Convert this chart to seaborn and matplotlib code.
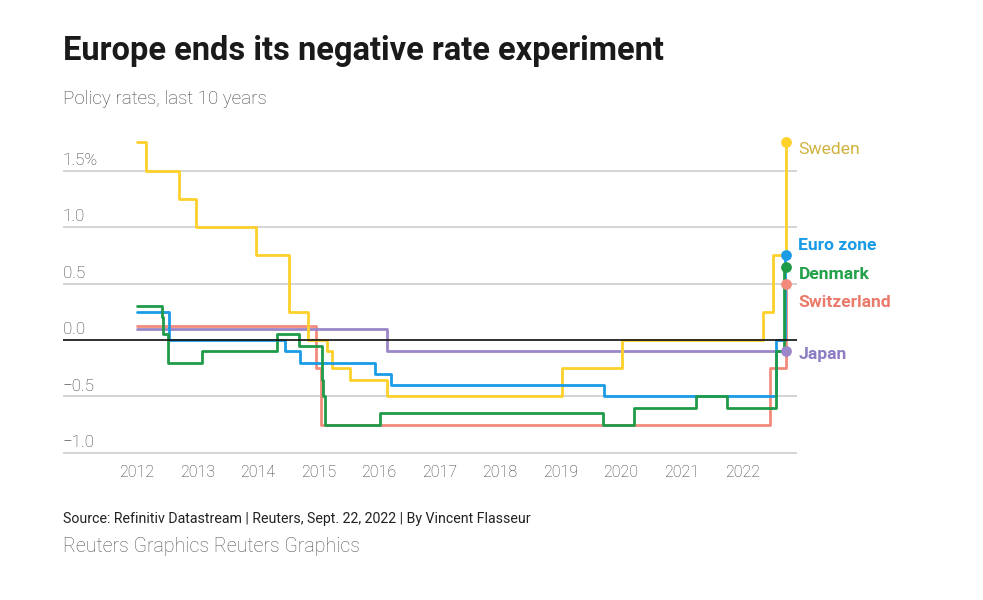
import matplotlib
matplotlib.use("Agg")
import matplotlib.pyplot as plt
import matplotlib.transforms as mtransforms
import pandas as pd
import seaborn as sns

# ---------------- data ----------------
END = "2022-09-22"

sweden_dates = ["2012-01-01", "2012-02-22", "2012-09-12", "2012-12-19", "2013-12-18",
                "2014-07-09", "2014-10-29", "2015-02-18", "2015-03-25", "2015-07-08",
                "2016-02-17", "2019-01-09", "2020-01-08", "2022-05-04", "2022-07-06",
                "2022-09-21", END]
sweden_rates = [1.75, 1.50, 1.25, 1.00, 0.75, 0.25, 0.00, -0.10, -0.25, -0.35,
                -0.50, -0.25, 0.00, 0.25, 0.75, 1.75, 1.75]

euro_dates = ["2012-01-01", "2012-07-11", "2014-06-11", "2014-09-10", "2015-12-09",
              "2016-03-16", "2019-09-18", "2022-07-27", "2022-09-14", END]
euro_rates = [0.25, 0.00, -0.10, -0.20, -0.30, -0.40, -0.50, 0.00, 0.75, 0.75]

denmark_dates = ["2012-01-01", "2012-05-31", "2012-06-08", "2012-07-06", "2013-01-25",
                 "2014-04-25", "2014-09-05", "2015-01-20", "2015-01-23", "2015-01-30",
                 "2015-02-06", "2016-01-08", "2019-09-13", "2020-03-20", "2021-03-26",
                 "2021-10-01", "2022-07-22", "2022-09-09", END]
denmark_rates = [0.30, 0.20, 0.05, -0.20, -0.10, 0.05, -0.05, -0.20, -0.35, -0.50,
                 -0.75, -0.65, -0.75, -0.60, -0.50, -0.60, -0.10, 0.65, 0.65]

swiss_dates = ["2012-01-01", "2014-12-18", "2015-01-15", "2022-06-16", "2022-09-22", END]
swiss_rates = [0.125, -0.25, -0.75, -0.25, 0.50, 0.50]

japan_dates = ["2012-01-01", "2016-02-16", END]
japan_rates = [0.10, -0.10, -0.10]

countries = ["Switzerland", "Japan", "Sweden", "Euro zone", "Denmark"]
series = {
    "Sweden": (sweden_dates, sweden_rates),
    "Euro zone": (euro_dates, euro_rates),
    "Denmark": (denmark_dates, denmark_rates),
    "Switzerland": (swiss_dates, swiss_rates),
    "Japan": (japan_dates, japan_rates),
}

year_ticks = list(range(2012, 2023))
y_ticks = [1.5, 1.0, 0.5, 0.0, -0.5, -1.0]
y_tick_labels = ["1.5%", "1.0", "0.5", "0.0", "\u22120.5", "\u22121.0"]

label_order = ["Sweden", "Euro zone", "Denmark", "Switzerland", "Japan"]
label_y = [1.69, 0.84, 0.58, 0.33, -0.13]

# ---------------- style ----------------
line_colors = {"Sweden": "#fdd02a", "Euro zone": "#1a9be6", "Denmark": "#1f9a48",
               "Switzerland": "#f28b7b", "Japan": "#9a86c8"}
text_colors = {"Sweden": "#cfb23e", "Euro zone": "#1a9be6", "Denmark": "#22a04a",
               "Switzerland": "#ea7a6b", "Japan": "#8f7dc4"}

sns.set_theme(style="white")
plt.rcParams["font.family"] = ["Roboto", "DejaVu Sans"]

rows = []
for c in countries:
    d, v = series[c]
    for di, vi in zip(d, v):
        rows.append({"date": pd.Timestamp(di), "rate": vi, "country": c})
df = pd.DataFrame(rows)

fig = plt.figure(figsize=(9.83, 6.0), dpi=100)
ax = fig.add_axes([63 / 983, 1 - 454.1 / 600, (797 - 63) / 983, (454.1 - 131) / 600])

for y in y_ticks:
    if y != 0:
        ax.axhline(y, color="#c9c9c9", lw=1.1, zorder=1)

sns.lineplot(data=df, x="date", y="rate", hue="country", hue_order=countries,
             palette=line_colors, drawstyle="steps-post", estimator=None,
             sort=False, lw=2.0, legend=False, ax=ax, zorder=3)

ax.axhline(0, color="#1a1a1a", lw=1.4, alpha=0.9, zorder=4)

end_ts = pd.Timestamp(END)
for c in countries:
    ax.scatter([end_ts], [series[c][1][-1]], s=60, color=line_colors[c], zorder=5,
               linewidths=0)

for c, ly in zip(label_order, label_y):
    ax.annotate(c, xy=(end_ts, ly), xytext=(9, 0), textcoords="offset points",
                va="center", ha="left", fontsize=12.6,
                fontweight="normal" if c == "Sweden" else "bold",
                color=text_colors[c], annotation_clip=False)

ax.set_xlim(pd.Timestamp("2010-10-11"), pd.Timestamp("2022-11-28"))
ax.set_ylim(-1.01, 1.85)
ax.set_xticks([pd.Timestamp(f"{y}-01-01") for y in year_ticks])
ax.set_xticklabels([str(y) for y in year_ticks], fontsize=11.5, color="#3a3a3a",
                   fontweight="light")
ax.tick_params(axis="x", length=0, pad=8)
ax.set_yticks([])
ax.set_xlabel("")
ax.set_ylabel("")
for s in ax.spines.values():
    s.set_visible(False)

trans = mtransforms.blended_transform_factory(ax.transAxes, ax.transData)
for v, lab in zip(y_ticks, y_tick_labels):
    ax.annotate(lab, xy=(0, v), xycoords=trans, xytext=(0, 4), textcoords="offset points",
                ha="left", va="baseline", fontsize=12.3, color="#3a3a3a",
                fontweight="light", annotation_clip=False)

fig.text(63 / 983, 1 - 51 / 600, "Europe ends its negative rate experiment",
         fontsize=23.5, fontweight="bold", color="#1a1a1a", ha="left", va="center")
fig.text(63 / 983, 1 - 99 / 600, "Policy rates, last 10 years",
         fontsize=13.5, fontweight="light", color="#404040", ha="left", va="center")
fig.text(63 / 983, 1 - 519 / 600,
         "Source: Refinitiv Datastream | Reuters, Sept. 22, 2022 | By Vincent Flasseur",
         fontsize=10.2, color="#222222", ha="left", va="center")
fig.text(63 / 983, 1 - 546 / 600, "Reuters Graphics Reuters Graphics",
         fontsize=14.1, fontweight="light", color="#555555", ha="left", va="center")

fig.savefig("out.png", dpi=100)
